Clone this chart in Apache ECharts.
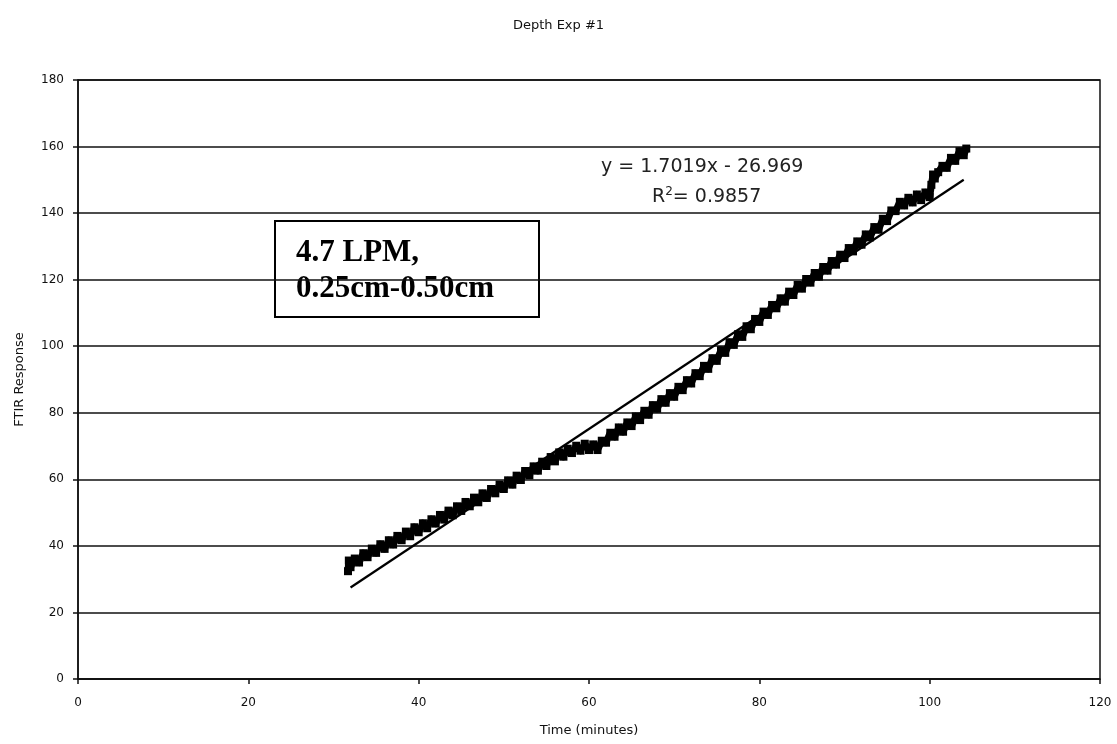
<!DOCTYPE html>
<html>
<head>
<meta charset="utf-8">
<title>Depth Exp #1</title>
<script src="https://cdn.jsdelivr.net/npm/echarts@6/dist/echarts.min.js"></script>
<style>
  html, body { margin: 0; padding: 0; background: #ffffff; }
  #chart { width: 1117px; height: 744px; }
</style>
</head>
<body>
<div id="chart"></div>
<script>
// Sample times (minutes)
const timeMinutes = [
  31.7, 31.8, 32.0, 32.5, 33.0, 33.5, 34.0, 34.5, 35.0, 35.5, 36.0, 36.5, 37.0, 37.5, 38.0, 38.5,
  39.0, 39.5, 40.0, 40.5, 41.0, 41.5, 42.0, 42.5, 43.0, 43.5, 44.0, 44.5, 45.0, 45.5,
  46.0, 46.5, 47.0, 47.5, 48.0, 48.5, 49.0, 49.5, 50.0, 50.5, 51.0, 51.5, 52.0, 52.5,
  53.0, 53.5, 54.0, 54.5, 55.0, 55.5, 56.0, 56.5, 57.0, 57.5, 58.0, 58.5, 59.0, 59.5,
  60.0, 60.5, 61.0, 61.5, 62.0, 62.5, 63.0, 63.5, 64.0, 64.5, 65.0, 65.5, 66.0, 66.5,
  67.0, 67.5, 68.0, 68.5, 69.0, 69.5, 70.0, 70.5, 71.0, 71.5, 72.0, 72.5, 73.0, 73.5,
  74.0, 74.5, 75.0, 75.5, 76.0, 76.5, 77.0, 77.5, 78.0, 78.5, 79.0, 79.5, 80.0, 80.5,
  81.0, 81.5, 82.0, 82.5, 83.0, 83.5, 84.0, 84.5, 85.0, 85.5, 86.0, 86.5, 87.0, 87.5,
  88.0, 88.5, 89.0, 89.5, 90.0, 90.5, 91.0, 91.5, 92.0, 92.5, 93.0, 93.5, 94.0, 94.5,
  95.0, 95.5, 96.0, 96.5, 97.0, 97.5, 98.0, 98.5, 99.0, 99.5, 100.0, 100.2, 100.4, 100.6,
  101.0, 101.5, 102.0, 102.5, 103.0, 103.5, 104.0, 104.3
];

// FTIR response at each sample time
const ftirResponse = [
  32.4, 35.6, 33.6, 36.2, 35.0, 37.8, 36.6, 39.2, 37.9, 40.5, 39.1, 41.7, 40.4, 43.0, 41.7, 44.3,
  42.9, 45.6, 44.1, 46.8, 45.3, 48.0, 46.7, 49.3, 47.9, 50.6, 49.2, 51.9, 50.5, 53.2,
  51.9, 54.5, 53.1, 55.8, 54.4, 57.1, 55.8, 58.4, 57.1, 59.7, 58.4, 61.1, 59.8, 62.5,
  61.2, 63.9, 62.6, 65.3, 64.0, 66.7, 65.4, 68.1, 66.8, 69.2, 67.9, 70.1, 68.6, 70.7,
  68.8, 70.5, 68.8, 71.6, 71.0, 74.0, 72.8, 75.6, 74.3, 77.1, 76.0, 78.9, 77.8, 80.6,
  79.4, 82.3, 81.2, 84.1, 83.0, 85.9, 84.8, 87.8, 86.8, 89.8, 88.8, 91.9, 91.0, 94.1,
  93.2, 96.4, 95.6, 98.8, 98.0, 101.2, 100.4, 103.6, 102.8, 106.0, 105.1, 108.2, 107.3, 110.4,
  109.4, 112.4, 111.4, 114.4, 113.4, 116.4, 115.4, 118.4, 117.3, 120.2, 119.1, 122.0, 120.9, 123.8,
  122.7, 125.6, 124.5, 127.5, 126.5, 129.5, 128.5, 131.5, 130.5, 133.6, 132.7, 135.8, 135.0, 138.3,
  137.6, 140.8, 140.6, 143.4, 142.3, 144.6, 143.2, 145.6, 143.9, 146.2, 144.8, 148.5, 151.6, 150.4,
  152.3, 154.2, 153.6, 156.6, 155.7, 158.6, 157.4, 159.4
];

// Linear trendline, as printed on the chart
const trendSlope = 1.7019;
const trendIntercept = -26.969;
const trendRSquared = 0.9857;
const trendRange = [32, 104];

// Axis ranges and ticks
const xTicks = [0, 20, 40, 60, 80, 100, 120];
const yTicks = [0, 20, 40, 60, 80, 100, 120, 140, 160, 180];

const points = timeMinutes.map((t, i) => [t, ftirResponse[i]]);
const trendPoints = trendRange.map(t => [t, trendSlope * t + trendIntercept]);

const chart = echarts.init(document.getElementById('chart'), null, { renderer: 'canvas' });

const sans = 'DejaVu Sans, Liberation Sans, Arial, sans-serif';
const tickFont = { fontFamily: sans, fontSize: 12, color: '#111' };

chart.setOption({
  backgroundColor: '#ffffff',
  animation: false,
  title: {
    text: 'Depth Exp #1',
    left: 'center',
    top: 14,
    textStyle: { fontFamily: sans, fontSize: 13, fontWeight: 'normal', color: '#111' }
  },
  grid: {
    left: 78, right: 17, top: 80, bottom: 65,
    show: true, borderColor: '#111', borderWidth: 1.5, backgroundColor: '#ffffff'
  },
  xAxis: {
    type: 'value',
    min: xTicks[0], max: xTicks[xTicks.length - 1], interval: 20,
    name: 'Time (minutes)',
    nameLocation: 'middle',
    nameGap: 45,
    nameTextStyle: { fontFamily: sans, fontSize: 13, color: '#111' },
    axisLine: { show: true, onZero: false, lineStyle: { color: '#111', width: 1.5 } },
    axisTick: { show: true, inside: false, length: 5, lineStyle: { color: '#111', width: 1.5 } },
    axisLabel: Object.assign({ margin: 18 }, tickFont),
    splitLine: { show: false }
  },
  yAxis: {
    type: 'value',
    min: yTicks[0], max: yTicks[yTicks.length - 1], interval: 20,
    name: 'FTIR Response',
    nameLocation: 'middle',
    nameGap: 52,
    nameRotate: 90,
    nameTextStyle: { fontFamily: sans, fontSize: 13, color: '#111' },
    axisLine: { show: true, lineStyle: { color: '#111', width: 1.5 } },
    axisTick: { show: true, inside: false, length: 5, lineStyle: { color: '#111', width: 1.5 } },
    axisLabel: Object.assign({ margin: 14 }, tickFont),
    splitLine: { show: true, lineStyle: { color: '#111', width: 1.5 } }
  },
  series: [
    {
      name: 'FTIR Response',
      type: 'line',
      data: points,
      showSymbol: true,
      symbol: 'rect',
      symbolSize: 8,
      itemStyle: { color: '#000000' },
      lineStyle: { color: '#000000', width: 7, join: 'round' },
      z: 3
    },
    {
      name: 'Trendline',
      type: 'line',
      data: trendPoints,
      showSymbol: false,
      symbol: 'none',
      lineStyle: { color: '#000000', width: 2.2 },
      z: 4
    }
  ],
  graphic: [
    {
      type: 'text',
      left: 601, top: 158,
      style: {
        text: 'y = ' + trendSlope.toFixed(4) + 'x - ' + Math.abs(trendIntercept).toFixed(3),
        fontFamily: sans, fontSize: 19, fill: '#222'
      }
    },
    {
      type: 'text',
      left: 652, top: 186,
      style: {
        rich: {
          n: { fontFamily: sans, fontSize: 19, fill: '#222' },
          s: { fontFamily: sans, fontSize: 12, fill: '#222', verticalAlign: 'top', padding: [0, 0, 10, 0] }
        },
        text: '{n|R}{s|2}{n|= ' + trendRSquared.toFixed(4) + '}'
      }
    },
    {
      type: 'group',
      left: 274, top: 220,
      children: [
        {
          type: 'rect',
          shape: { x: 0, y: 0, width: 264, height: 96 },
          style: { fill: '#ffffff', stroke: '#000000', lineWidth: 2 }
        },
        {
          type: 'text',
          x: 21, y: 14,
          style: {
            text: '4.7 LPM,\n0.25cm-0.50cm',
            fontFamily: 'Liberation Serif, Times New Roman, serif',
            fontSize: 31, fontWeight: 'bold', lineHeight: 36, fill: '#000'
          }
        }
      ]
    }
  ]
});
</script>
</body>
</html>
